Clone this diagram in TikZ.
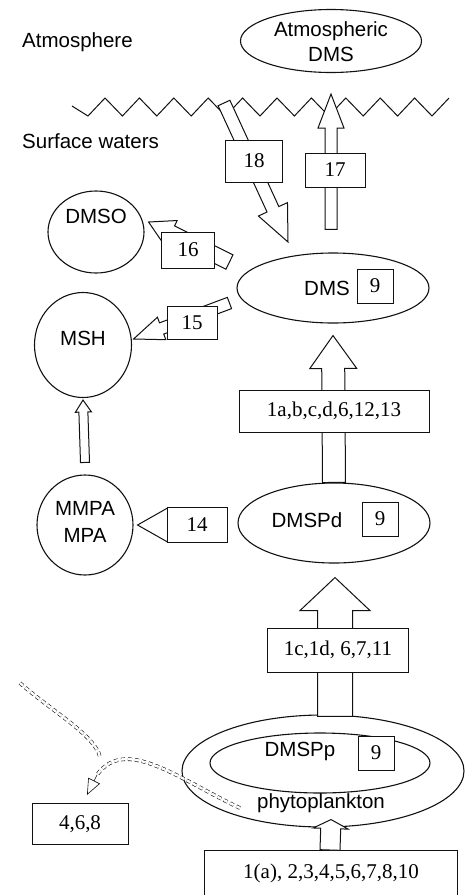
\documentclass[tikz,border=0pt]{standalone}
\usepackage{fontspec}
\setmainfont{Liberation Serif}
\newfontfamily\sansfont{Liberation Sans}
\usepackage{xcolor}
\definecolor{cInk}{HTML}{111111}
\usetikzlibrary{positioning,arrows.meta,calc,shapes.geometric}
\tikzset{
  node-ellipse/.style={draw=cInk,line width=1.1pt,ellipse,inner sep=0pt},
  node-box/.style={draw=cInk,line width=1pt,fill=white,inner sep=0pt,
    font=\fontsize{21}{24}\selectfont},
  node-num/.style={node-box,minimum width=36pt,minimum height=34pt},
  node-text/.style={inner sep=0pt,font=\fontsize{21}{24}\selectfont},
  node-label/.style={inner sep=0pt,align=center,
    font=\sansfont\fontsize{20.5}{25}\selectfont},
  box-edge/.style={draw=cInk,line width=1pt},
  arrow-hollow/.style={draw=cInk,line width=1pt,fill=white,line join=miter},
  arrow-dash/.style={draw=cInk,dash pattern=on 4pt off 3pt,line width=0.6pt,
    double=white,double distance=2.4pt},
  arrow-dash-tip/.style={draw=cInk,line width=0.6pt,
    -{Triangle[open,length=16pt,width=13pt]}},
  wave/.style={draw=cInk,line width=1pt},
}
% hollow block arrow: tail, tip, shaft half width, head half width, head length
\newcommand\blockarrow[5]{%
  \coordinate (neck) at ($(#2)!#5!(#1)$);
  \draw[arrow-hollow] ($(#1)!#3!90:(#2)$) -- ($(neck)!#3!90:(#2)$)
    -- ($(neck)!#4!90:(#2)$) -- (#2) -- ($(neck)!#4!-90:(#2)$)
    -- ($(neck)!#3!-90:(#2)$) -- ($(#1)!#3!-90:(#2)$) -- cycle;
}

\begin{document}
\begin{tikzpicture}[x=1pt,y=-1pt]
  \useasboundingbox (0,0) rectangle (468,895);
  % layers
  \node[node-label,anchor=base west] (atm) at (22,47) {Atmosphere};
  \node[node-label,anchor=base west] (sea) at (22,148) {Surface waters};
  \node[node-ellipse,minimum width=181pt,minimum height=63pt] (atm-dms) at (331,41) {};
  \node[node-label] (atm-dms-text) at (331,42) {Atmospheric\\DMS};
  \draw[wave] (72,106) \foreach \i in {0,...,10} { -- ({88+34.4*\i},116) -- ({105+34.4*\i},98) };

  % pools
  \node[node-ellipse,minimum width=96pt,minimum height=82pt] (dmso) at (96,232) {};
  \node[node-label] (dmso-text) at (96,216) {DMSO};
  \node[node-ellipse,minimum width=97pt,minimum height=105pt] (msh) at (83,345) {};
  \node[node-label] (msh-text) at (83,338) {MSH};
  \node[node-ellipse,minimum width=96pt,minimum height=100pt] (mmpa) at (85,525) {};
  \node[node-label] (mmpa-text) at (85,522) {MMPA\\[2pt]MPA};
  \node[node-ellipse,minimum width=192pt,minimum height=70pt] (dms) at (333,288) {};
  \node[node-label] (dms-text) at (327,288) {DMS};
  \node[node-num] (dms-9) at (375,286) {9};
  \node[node-ellipse,minimum width=192pt,minimum height=80pt] (dmspd) at (334,523) {};
  \node[node-label] (dmspd-text) at (307,520) {DMSPd};
  \node[node-num] (dmspd-9) at (380,519) {9};
  \node[node-ellipse,minimum width=282pt,minimum height=112pt] (phyto) at (323,771) {};
  \node[node-ellipse,minimum width=220pt,minimum height=60pt] (dmspp) at (320,763) {};
  \node[node-label] (dmspp-text) at (300,751) {DMSPp};
  \node[node-num] (dmspp-9) at (376,753) {9};
  \node[node-label] (phyto-text) at (321,803) {phytoplankton};
  % bottom box runs off the page: no lower edge
  \node[node-box,draw=none,minimum width=252pt,minimum height=100pt,anchor=north]
    (b-bottom) at (331,850) {};
  \draw[box-edge] (b-bottom.south west) -- (b-bottom.north west)
    -- (b-bottom.north east) -- (b-bottom.south east);
  \node[node-text] (b-bottom-text) at (331,873) {1(a), 2,3,4,5,6,7,8,10};

  % block arrows
  \coordinate (a18-tail) at (224,103);
  \coordinate (a18-tip) at (288,242);
  \blockarrow{a18-tail}{a18-tip}{6.5pt}{16pt}{36pt}
  \coordinate (a17-tail) at ($(dms.north)+(-2,-23)$);
  \coordinate (a17-tip) at ($(atm-dms.south)+(0,21)$);
  \blockarrow{a17-tail}{a17-tip}{6pt}{13pt}{34pt}
  \coordinate (a16-tail) at ($(dms.west)+(-7,-26)$);
  \coordinate (a16-tip) at ($(dmso.east)+(4,-10)$);
  \blockarrow{a16-tail}{a16-tip}{8pt}{14pt}{25pt}
  \coordinate (a15-tail) at ($(dms.west)+(-7,15)$);
  \coordinate (a15-tip) at ($(msh.east)+(1.5,-6)$);
  \blockarrow{a15-tail}{a15-tip}{6pt}{12pt}{30pt}
  \coordinate (a14-tail) at ($(dmspd.west)+(-10,2)$);
  \coordinate (a14-tip) at ($(mmpa.east)+(4,0)$);
  \blockarrow{a14-tail}{a14-tip}{11pt}{17pt}{30pt}
  \coordinate (a-dms-tip) at ($(dms.south)+(0,12)$);
  \blockarrow{dmspd.north}{a-dms-tip}{11.5pt}{23.5pt}{33pt}
  \coordinate (a-pd-tail) at ($(phyto.north)+(12,2)$);
  \coordinate (a-pd-tip) at ($(dmspd.south)+(1,14)$);
  \blockarrow{a-pd-tail}{a-pd-tip}{17.5pt}{35pt}{33pt}
  \coordinate (a-pp-tail) at ($(b-bottom.north)+(-1,0)$);
  \coordinate (a-pp-tip) at ($(phyto.south)+(8,-8)$);
  \blockarrow{a-pp-tail}{a-pp-tip}{10pt}{17.5pt}{9pt}
  \coordinate (a-msh-tail) at ($(mmpa.north)+(0,-12)$);
  \coordinate (a-msh-tip) at ($(msh.south)+(0,2)$);
  \blockarrow{a-msh-tail}{a-msh-tip}{4.5pt}{8pt}{12pt}

  % process boxes
  \node[node-box,minimum width=57pt,minimum height=42pt] (b18) at (254,161) {18};
  \node[node-box,minimum width=60pt,minimum height=34pt] (b17) at (335,170) {17};
  \node[node-box,minimum width=53pt,minimum height=36pt] (b16) at (188,250) {16};
  \node[node-box,minimum width=50pt,minimum height=33pt] (b15) at (192,323) {15};
  \node[node-box,minimum width=60pt,minimum height=35pt] (b14) at (197,525) {14};
  \node[node-box,minimum width=190pt,minimum height=42pt] (b1a) at (334,411) {1a,b,c,d,6,12,13};
  \node[node-box,minimum width=141pt,minimum height=44pt] (b1c) at (338,650) {1c,1d, 6,7,11};
  \node[node-box,minimum width=96pt,minimum height=41pt] (b468) at (80,824) {4,6,8};

  % dashed release
  \coordinate (d-start) at (240,808);
  \coordinate (d-neck) at (97,775);
  \coordinate (d-tip) at (87,795);
  \draw[arrow-dash] (d-start) .. controls (180,780) and (125,735) .. (d-neck);
  \draw[arrow-dash-tip] (d-neck) -- (d-tip);
  \coordinate (d2-start) at (20,683);
  \coordinate (d2-end) at (100,757);
  \draw[arrow-dash] (d2-start) .. controls (50,710) and (95,735) .. (d2-end);
\end{tikzpicture}
\end{document}
